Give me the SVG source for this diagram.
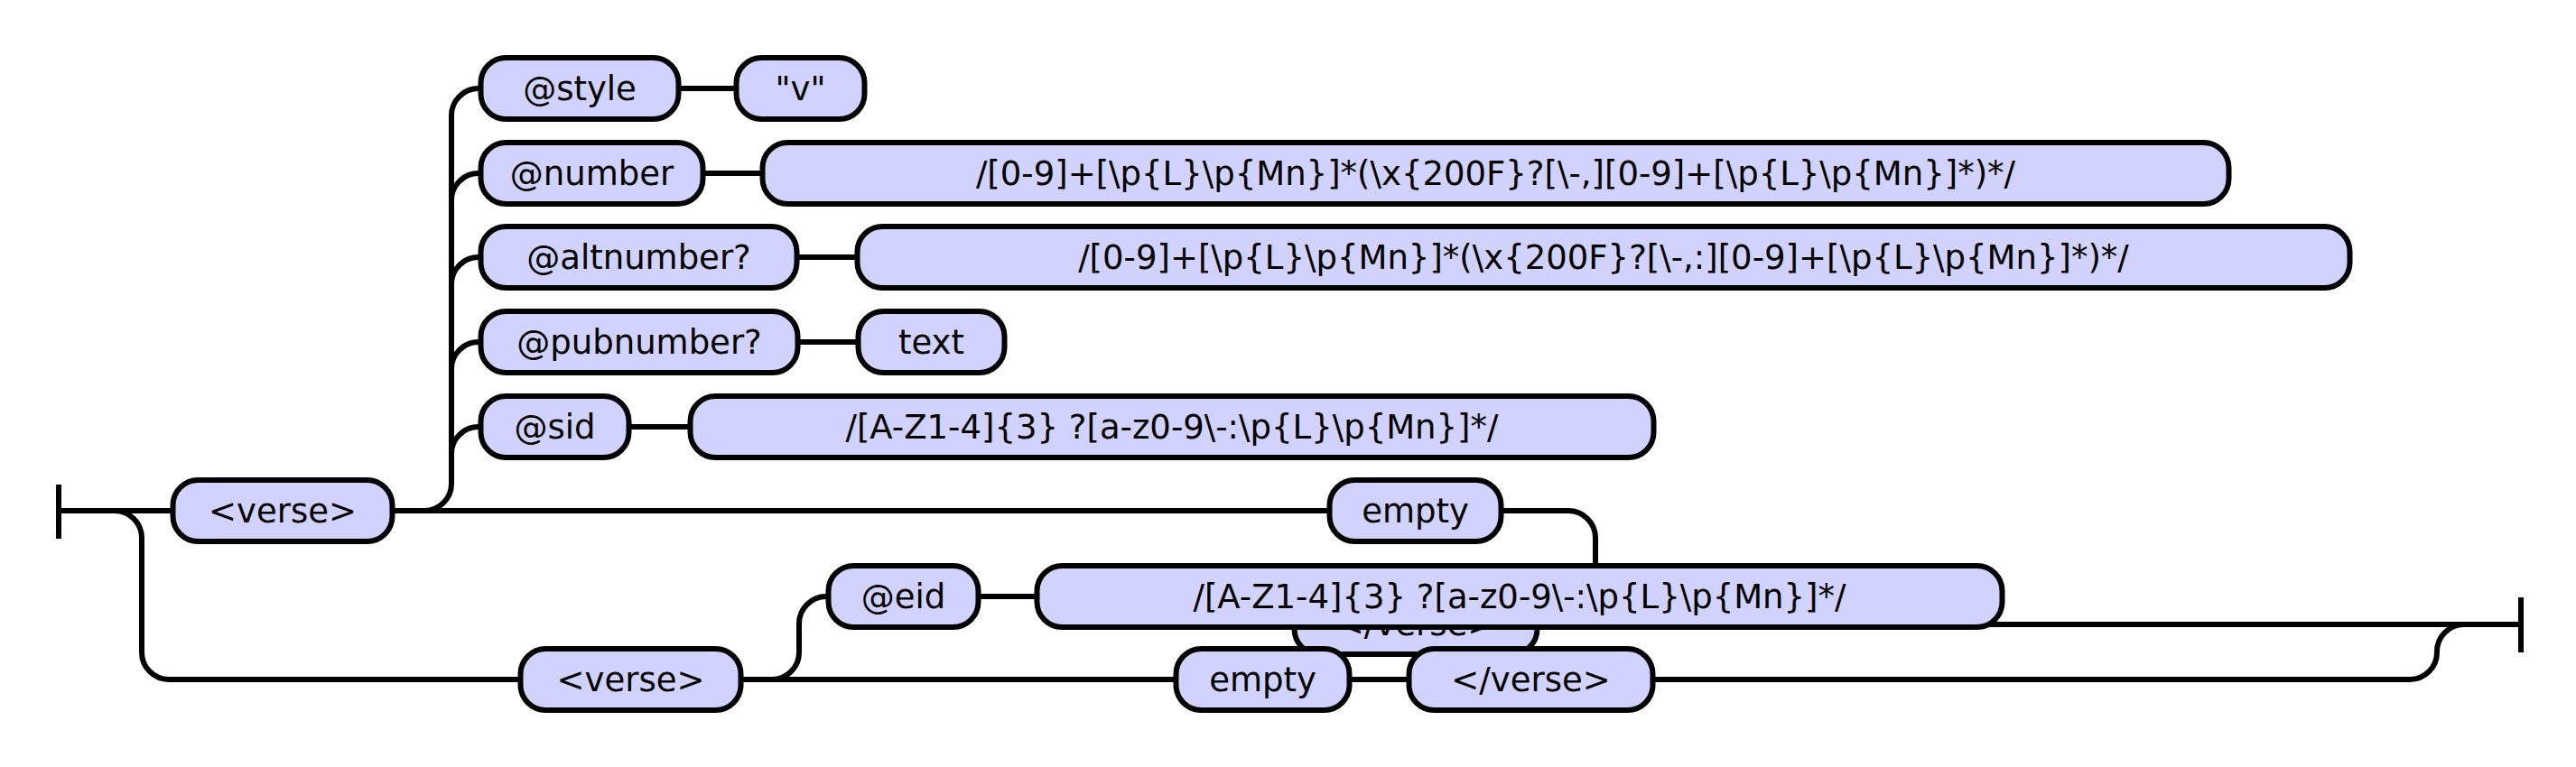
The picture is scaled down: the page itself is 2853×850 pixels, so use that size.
<svg xmlns="http://www.w3.org/2000/svg" width="2853" height="850" viewBox="0 0 2853 850">
<style>
.n rect{fill:#d2d2ff;stroke:#000;stroke-width:6}
.n text{font-family:"DejaVu Sans","Liberation Sans",sans-serif;font-size:37px;fill:#000;text-anchor:middle}
.c path{fill:none;stroke:#000;stroke-width:6}
</style>
<rect width="2853" height="850" fill="#fff"/>
<g id="connectors" class="c">
<path d="M65,537 V597"/>
<path d="M2792,662 V723"/>
<path d="M65,566 H189"/>
<path d="M127,566 A30,30 0 0 1 157,596 V723 A30,30 0 0 0 187,753 H576"/>
<path d="M437,566 H1472"/>
<path d="M470,566 A30,30 0 0 0 500,536 V128 A30,30 0 0 1 530,98"/>
<path d="M500,222 A30,30 0 0 1 530,192"/>
<path d="M500,315 A30,30 0 0 1 530,285"/>
<path d="M500,409 A30,30 0 0 1 530,379"/>
<path d="M500,503 A30,30 0 0 1 530,473"/>
<path d="M754,98 H815"/>
<path d="M780,192 H844"/>
<path d="M885,285 H949"/>
<path d="M886,379 H950"/>
<path d="M699,473 H764"/>
<path d="M1665,566 H1737 A30,30 0 0 1 1767,596 V662 A30,30 0 0 0 1797,692"/>
<path d="M1705,692 H2792"/>
<path d="M822,753 H1302"/>
<path d="M1497,753 H1560"/>
<path d="M855,753 A30,30 0 0 0 885,723 V691 A30,30 0 0 1 915,661"/>
<path d="M1086,661 H1148"/>
<path d="M1833,753 H2669 A30,30 0 0 0 2699,723 V722 A30,30 0 0 1 2729,692"/>
</g>
<g id="verse1" class="n"><rect x="191.5" y="532" width="243" height="68" rx="28"/><text x="313" y="579">&lt;verse&gt;</text></g>
<g id="style" class="n"><rect x="532.5" y="64" width="219" height="68" rx="28"/><text x="642" y="111">@style</text></g>
<g id="v" class="n"><rect x="815.5" y="64" width="142" height="68" rx="28"/><text x="886.5" y="111">"v"</text></g>
<g id="number" class="n"><rect x="532.5" y="158" width="246" height="68" rx="28"/><text x="655.5" y="205">@number</text></g>
<g id="number-re" class="n"><rect x="844.5" y="158" width="1624" height="68" rx="28"/><text x="1656.5" y="205">/[0-9]+[\p{L}\p{Mn}]*(\x{200F}?[\-,][0-9]+[\p{L}\p{Mn}]*)*/</text></g>
<g id="altnumber" class="n"><rect x="532.5" y="251" width="350" height="68" rx="28"/><text x="707.5" y="298">@altnumber?</text></g>
<g id="altnumber-re" class="n"><rect x="949.5" y="251" width="1653" height="68" rx="28"/><text x="1776" y="298">/[0-9]+[\p{L}\p{Mn}]*(\x{200F}?[\-,:][0-9]+[\p{L}\p{Mn}]*)*/</text></g>
<g id="pubnumber" class="n"><rect x="532.5" y="345" width="351" height="68" rx="28"/><text x="708" y="392">@pubnumber?</text></g>
<g id="text" class="n"><rect x="950.5" y="345" width="162" height="68" rx="28"/><text x="1031.5" y="392">text</text></g>
<g id="sid" class="n"><rect x="532.5" y="439" width="164" height="68" rx="28"/><text x="614.5" y="486">@sid</text></g>
<g id="sid-re" class="n"><rect x="764.5" y="439" width="1067" height="68" rx="28"/><text x="1298" y="486">/[A-Z1-4]{3} ?[a-z0-9\-:\p{L}\p{Mn}]*/</text></g>
<g id="empty1" class="n"><rect x="1472.5" y="532" width="190" height="68" rx="28"/><text x="1567.5" y="579">empty</text></g>
<g id="endverse1" class="n"><rect x="1433.5" y="657" width="269" height="68" rx="28"/><text x="1568" y="704">&lt;/verse&gt;</text></g>
<g id="eid" class="n"><rect x="917.5" y="627" width="166" height="68" rx="28"/><text x="1000.5" y="674">@eid</text></g>
<g id="eid-re" class="n"><rect x="1148.5" y="627" width="1069" height="68" rx="28"/><text x="1683" y="674">/[A-Z1-4]{3} ?[a-z0-9\-:\p{L}\p{Mn}]*/</text></g>
<g id="verse2" class="n"><rect x="576.5" y="719" width="244" height="68" rx="28"/><text x="698.5" y="766">&lt;verse&gt;</text></g>
<g id="empty2" class="n"><rect x="1302.5" y="719" width="192" height="68" rx="28"/><text x="1398.5" y="766">empty</text></g>
<g id="endverse2" class="n"><rect x="1560.5" y="719" width="270" height="68" rx="28"/><text x="1695.5" y="766">&lt;/verse&gt;</text></g>
</svg>
